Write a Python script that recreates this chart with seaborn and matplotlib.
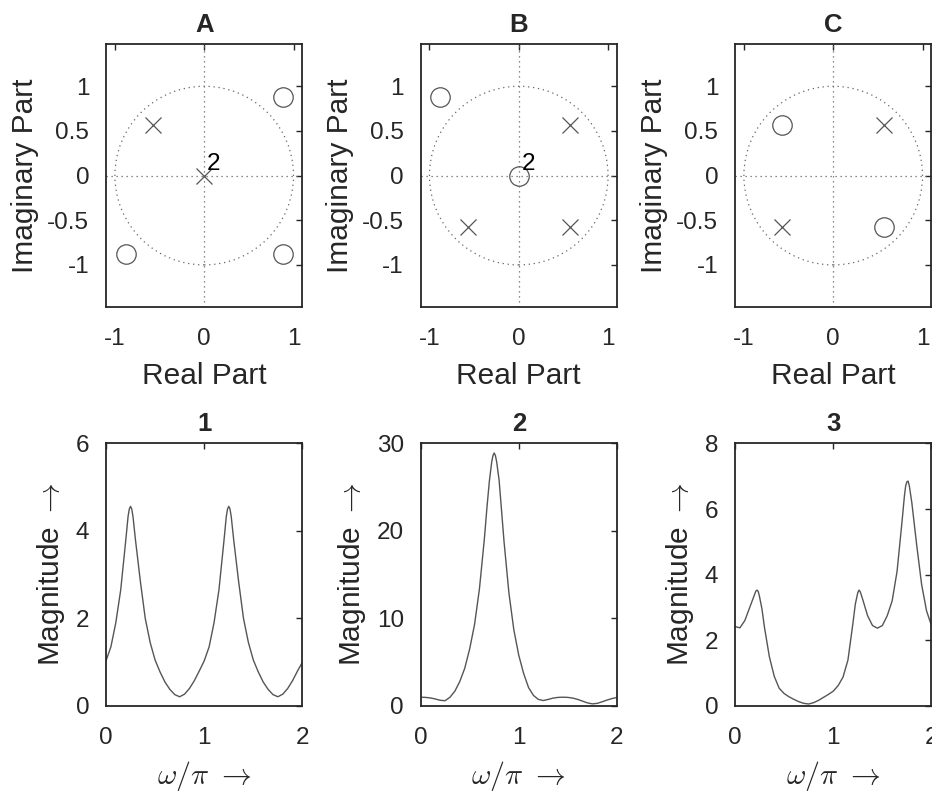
import numpy as np
import matplotlib
matplotlib.use('Agg')
import matplotlib.pyplot as plt
from matplotlib.patches import Circle
import seaborn as sns

sns.set_style('white')
plt.rcParams['font.family'] = ['Liberation Sans', 'DejaVu Sans']
plt.rcParams['mathtext.fontset'] = 'cm'

# %% pole / zero data
titles_top = ['A', 'B', 'C']
zeros_re = [[0.88, 0.88, -0.88], [-0.88, 0.0], [-0.57, 0.57]]
zeros_im = [[0.88, -0.88, -0.88], [0.88, 0.0], [0.57, -0.57]]
poles_re = [[-0.57, 0.0], [0.57, -0.57, 0.57], [0.57, -0.57]]
poles_im = [[0.57, 0.0], [0.57, -0.57, -0.57], [0.57, -0.57]]
mult_label = ['2', '2', None]   # double pole / double zero at origin

# %% magnitude responses
titles_bot = ['1', '2', '3']

w1 = [0.0, 0.05, 0.1, 0.15, 0.2, 0.225, 0.2375, 0.25, 0.2625, 0.275, 0.3,
      0.35, 0.4, 0.45, 0.5, 0.55, 0.6, 0.65, 0.7, 0.75, 0.8, 0.85, 0.9,
      0.95, 1.0, 1.05, 1.1, 1.15, 1.2, 1.225, 1.2375, 1.25, 1.2625, 1.275,
      1.3, 1.35, 1.4, 1.45, 1.5, 1.55, 1.6, 1.65, 1.7, 1.75, 1.8, 1.85, 1.9,
      1.95, 2.0]
mag1 = [1.03, 1.35, 1.9, 2.65, 3.75, 4.33, 4.5, 4.56, 4.5, 4.33, 3.8,
        2.85, 2.0, 1.45, 1.05, 0.78, 0.55, 0.38, 0.26, 0.21, 0.27, 0.4, 0.58,
        0.8, 1.03, 1.35, 1.9, 2.65, 3.75, 4.33, 4.5, 4.56, 4.5, 4.33,
        3.8, 2.85, 2.0, 1.45, 1.05, 0.78, 0.55, 0.38, 0.26, 0.21, 0.27, 0.4,
        0.58, 0.8, 1.0]

w2 = [0.0, 0.05, 0.1, 0.15, 0.2, 0.25, 0.3, 0.35, 0.4, 0.45, 0.5, 0.55,
      0.6, 0.65, 0.675, 0.7, 0.725, 0.7375, 0.75, 0.7625, 0.775, 0.8, 0.825,
      0.85, 0.9, 0.95, 1.0, 1.05, 1.1, 1.15, 1.2, 1.25, 1.3, 1.35, 1.4, 1.45,
      1.5, 1.55, 1.6, 1.65, 1.7, 1.75, 1.8, 1.85, 1.9, 1.95, 2.0]
mag2 = [1.0, 0.98, 0.92, 0.8, 0.65, 0.6, 1.0, 1.7, 2.8, 4.3, 6.5, 9.3,
        13.4, 19.1, 22.5, 25.6, 27.9, 28.6, 28.9, 28.6, 27.9, 25.8, 22.3,
        18.8, 12.9, 8.7, 5.8, 3.7, 2.1, 1.2, 0.75, 0.62, 0.75, 0.9, 0.98, 1.0,
        0.98, 0.9, 0.75, 0.55, 0.35, 0.24, 0.3, 0.48, 0.68, 0.85, 0.97]

w3 = [0.0, 0.05, 0.1, 0.15, 0.2, 0.2125, 0.225, 0.2375, 0.25, 0.275, 0.3,
      0.35, 0.4, 0.45, 0.5, 0.55, 0.6, 0.65, 0.7, 0.75, 0.8, 0.85, 0.9, 0.95,
      1.0, 1.05, 1.1, 1.15, 1.2, 1.225, 1.25, 1.2625, 1.275, 1.3, 1.35, 1.4,
      1.45, 1.5, 1.55, 1.6, 1.65, 1.7, 1.725, 1.7375, 1.75, 1.7625, 1.775,
      1.8, 1.85, 1.9, 1.95, 2.0]
mag3 = [2.42, 2.38, 2.6, 3.0, 3.4, 3.5, 3.53, 3.48, 3.33, 2.95, 2.4,
        1.5, 0.9, 0.54, 0.38, 0.28, 0.2, 0.13, 0.08, 0.06, 0.1, 0.17, 0.26,
        0.35, 0.45, 0.62, 0.88, 1.4, 2.5, 3.1, 3.45, 3.53, 3.48, 3.25, 2.75,
        2.45, 2.37, 2.45, 2.75, 3.2, 4.1, 5.6, 6.4, 6.7, 6.83, 6.85, 6.7,
        6.2, 4.9, 3.7, 2.9, 2.45]

ws = [w1, w2, w3]
mags = [mag1, mag2, mag3]
ylims = [6, 30, 8]
yticks = [[0, 2, 4, 6], [0, 10, 20, 30], [0, 2, 4, 6, 8]]

# %% layout
fig = plt.figure(figsize=(9.32, 7.91), dpi=100)
lefts = [0.1137, 0.4512, 0.7886]
width = 0.2108
height = 0.332

txtc = '#262626'
gray = '#555555'


def style_axes(ax):
    for s in ax.spines.values():
        s.set_visible(True)
        s.set_color(txtc)
        s.set_linewidth(1.3)
    ax.tick_params(direction='in', length=4, width=1.0, top=True, right=True,
                   labelsize=17.5, labelcolor=txtc, color=txtc)
    ax.tick_params(axis='x', pad=15)
    ax.tick_params(axis='y', pad=12)


for i in range(3):
    # top row: pole-zero plots
    ax = fig.add_axes([lefts[i], 0.612, width, height])
    ax.add_patch(Circle((0, 0), 1, fill=False, ls=(0, (1, 3)), lw=0.9,
                        ec='#666666'))
    ax.axhline(0, ls=(0, (1, 3)), lw=0.9, color='#666666')
    ax.axvline(0, ls=(0, (1, 3)), lw=0.9, color='#666666')
    ax.plot(zeros_re[i], zeros_im[i], ls='none', marker='o', ms=14,
            mfc='none', mec=gray, mew=0.9)
    ax.plot(poles_re[i], poles_im[i], ls='none', marker='x', ms=11.5,
            mec=gray, mew=0.9)
    if mult_label[i]:
        ax.text(0.03, 0.06, mult_label[i], fontsize=17.5, ha='left',
                va='baseline', color='black')
    ax.set_xlim(-1.1, 1.1)
    ax.set_ylim(-1.47, 1.47)
    ax.set_xticks([-1, 0, 1])
    ax.set_yticks([-1, -0.5, 0, 0.5, 1])
    ax.set_xticklabels(['-1', '0', '1'])
    ax.set_yticklabels(['-1', '-0.5', '0', '0.5', '1'])
    ax.set_xlabel('Real Part', fontsize=21.5, color=txtc, labelpad=9)
    ax.set_ylabel('Imaginary Part', fontsize=21.5, color=txtc, labelpad=6)
    ax.set_title(titles_top[i], fontsize=18.5, fontweight='bold', pad=9)
    style_axes(ax)

    # bottom row: magnitude responses
    ax2 = fig.add_axes([lefts[i], 0.1075, width, height])
    sns.lineplot(x=ws[i], y=mags[i], ax=ax2, color=gray, lw=1.0)
    ax2.set_xlim(0, 2)
    ax2.set_ylim(0, ylims[i])
    ax2.set_xticks([0, 1, 2])
    ax2.set_yticks(yticks[i])
    ax2.set_xlabel(r'$\omega/\pi\ \rightarrow$', fontsize=21.5, color=txtc,
                   labelpad=7)
    ax2.set_ylabel(r'Magnitude $\rightarrow$', fontsize=21.5, color=txtc,
                   labelpad=6)
    ax2.set_title(titles_bot[i], fontsize=18.5, fontweight='bold', pad=9)
    style_axes(ax2)

fig.savefig('out.png', dpi=100)
